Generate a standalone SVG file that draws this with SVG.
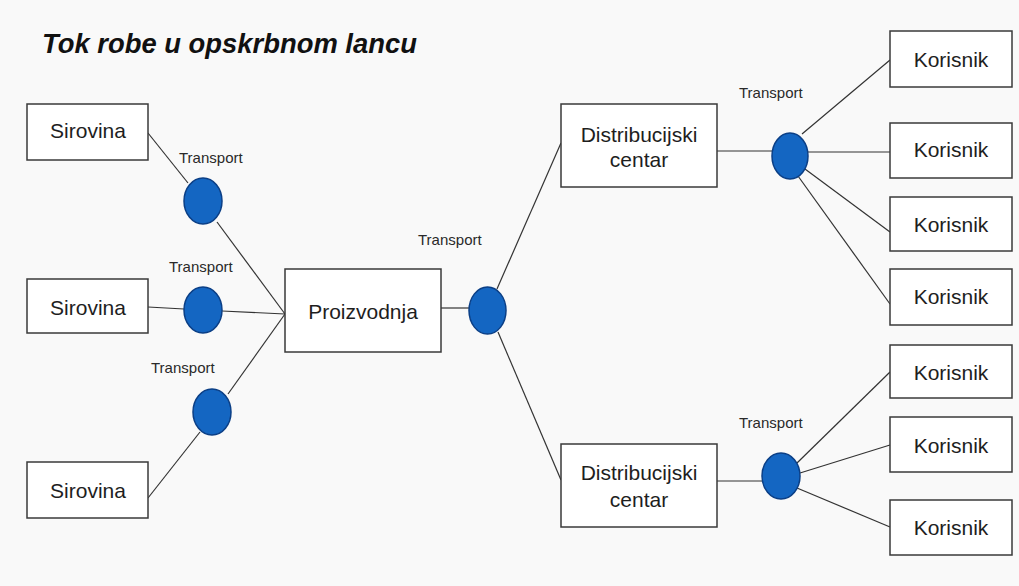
<svg xmlns="http://www.w3.org/2000/svg" width="1019" height="586" viewBox="0 0 1019 586">
<style>
.bg{fill:#f9f9f9}
.box{fill:#ffffff;stroke:#3a3a3a;stroke-width:1.5}
.lbl{font-family:"Liberation Sans",Arial,sans-serif;font-size:21px;fill:#1e1e1e;text-anchor:middle}
.tr{font-family:"Liberation Sans",Arial,sans-serif;font-size:15px;fill:#2a2a2a}
.title{font-family:"Liberation Sans",Arial,sans-serif;font-size:27.4px;font-weight:bold;font-style:italic;fill:#111}
.hub{fill:#1466c2;stroke:#0b3f86;stroke-width:1.5}
.ln{stroke:#333;stroke-width:1.2;fill:none}
</style>
<rect class="bg" x="0" y="0" width="1019" height="586"/>
<text class="title" x="42" y="53">Tok robe u opskrbnom lancu</text>

<g id="connectors">
<line class="ln" x1="148" y1="133" x2="188" y2="183"/>
<line class="ln" x1="217" y1="222" x2="285" y2="314"/>
<line class="ln" x1="148" y1="307" x2="184" y2="309"/>
<line class="ln" x1="222" y1="311" x2="285" y2="314"/>
<line class="ln" x1="228" y1="394" x2="285" y2="314"/>
<line class="ln" x1="200" y1="432" x2="148" y2="498"/>
<line class="ln" x1="441" y1="308" x2="469" y2="308"/>
<line class="ln" x1="497" y1="289" x2="561" y2="143"/>
<line class="ln" x1="498" y1="332" x2="561" y2="480"/>
<line class="ln" x1="717" y1="151" x2="772" y2="151"/>
<line class="ln" x1="802" y1="134" x2="890" y2="60"/>
<line class="ln" x1="808" y1="152" x2="890" y2="152"/>
<line class="ln" x1="805" y1="169" x2="890" y2="232"/>
<line class="ln" x1="798" y1="176" x2="890" y2="304"/>
<line class="ln" x1="717" y1="481" x2="762" y2="481"/>
<line class="ln" x1="797" y1="463" x2="890" y2="372"/>
<line class="ln" x1="800" y1="473" x2="890" y2="445"/>
<line class="ln" x1="797" y1="488" x2="890" y2="527"/>
</g>

<g id="sirovina1"><rect class="box" x="27" y="104" width="121" height="56"/><text class="lbl" x="88" y="138">Sirovina</text></g>
<g id="sirovina2"><rect class="box" x="27" y="279" width="121" height="54"/><text class="lbl" x="88" y="315">Sirovina</text></g>
<g id="sirovina3"><rect class="box" x="27" y="462" width="121" height="56"/><text class="lbl" x="88" y="498">Sirovina</text></g>

<g id="transport1"><ellipse class="hub" cx="203" cy="201" rx="19" ry="23"/><text class="tr" x="179" y="163">Transport</text></g>
<g id="transport2"><ellipse class="hub" cx="203" cy="310" rx="19" ry="23"/><text class="tr" x="169" y="272">Transport</text></g>
<g id="transport3"><ellipse class="hub" cx="212" cy="412" rx="19" ry="23"/><text class="tr" x="151" y="373">Transport</text></g>

<g id="proizvodnja"><rect class="box" x="285" y="269" width="156" height="83"/><text class="lbl" x="363" y="319">Proizvodnja</text></g>

<g id="transport4"><ellipse class="hub" cx="487.5" cy="310.5" rx="18.5" ry="23.5"/><text class="tr" x="418" y="245">Transport</text></g>

<g id="dc1"><rect class="box" x="561" y="104" width="156" height="83"/><text class="lbl" x="639" y="142">Distribucijski</text><text class="lbl" x="639" y="167">centar</text></g>
<g id="dc2"><rect class="box" x="561" y="444" width="156" height="83"/><text class="lbl" x="639" y="480">Distribucijski</text><text class="lbl" x="639" y="507">centar</text></g>

<g id="transport5"><ellipse class="hub" cx="790" cy="156" rx="18" ry="23"/><text class="tr" x="739" y="98">Transport</text></g>
<g id="transport6"><ellipse class="hub" cx="781" cy="476" rx="19" ry="23"/><text class="tr" x="739" y="428">Transport</text></g>

<g id="korisnik1"><rect class="box" x="890" y="31" width="122" height="56"/><text class="lbl" x="951" y="67">Korisnik</text></g>
<g id="korisnik2"><rect class="box" x="890" y="123" width="122" height="55"/><text class="lbl" x="951" y="157">Korisnik</text></g>
<g id="korisnik3"><rect class="box" x="890" y="197" width="122" height="54"/><text class="lbl" x="951" y="232">Korisnik</text></g>
<g id="korisnik4"><rect class="box" x="890" y="269" width="122" height="56"/><text class="lbl" x="951" y="304">Korisnik</text></g>
<g id="korisnik5"><rect class="box" x="890" y="345" width="122" height="53"/><text class="lbl" x="951" y="380">Korisnik</text></g>
<g id="korisnik6"><rect class="box" x="890" y="417" width="122" height="55"/><text class="lbl" x="951" y="453">Korisnik</text></g>
<g id="korisnik7"><rect class="box" x="890" y="500" width="122" height="55"/><text class="lbl" x="951" y="535">Korisnik</text></g>
</svg>
